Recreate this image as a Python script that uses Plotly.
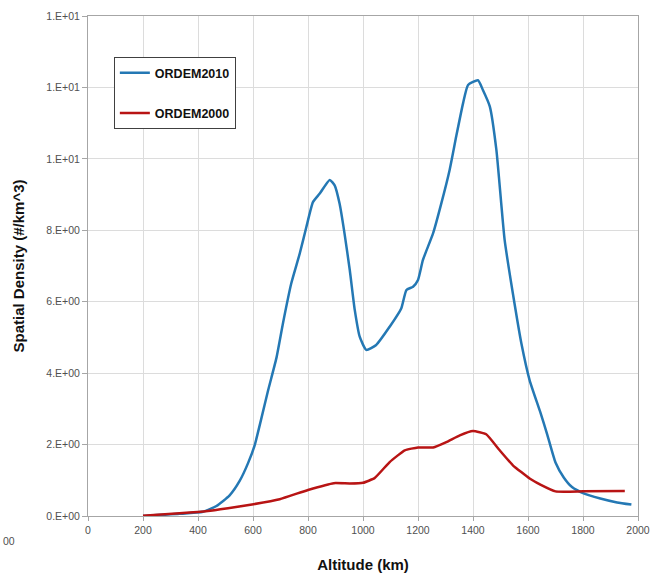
import plotly.graph_objects as go

# Spatial density profiles versus altitude
alt_2010 = [200, 333, 418, 467, 515, 552, 582, 606, 630, 655, 685, 709, 739, 770, 794, 818,
            842, 879, 897, 915, 933, 952, 970, 988, 1012, 1048, 1097, 1139, 1158, 1182, 1200,
            1218, 1255, 1285, 1315, 1339, 1364, 1382, 1418, 1436, 1461, 1485, 1515, 1545,
            1576, 1606, 1645, 1670, 1700, 1730, 1760, 1800, 1863, 1924, 1976]
dens_2010 = [0.0, 0.06, 0.12, 0.28, 0.58, 0.99, 1.48, 1.98, 2.72, 3.52, 4.42, 5.4, 6.51, 7.35,
             8.09, 8.79, 9.02, 9.41, 9.26, 8.74, 7.9, 6.88, 5.77, 5.02, 4.65, 4.79, 5.3, 5.81,
             6.33, 6.42, 6.61, 7.17, 7.92, 8.76, 9.69, 10.63, 11.56, 12.07, 12.2, 11.93, 11.47,
             10.25, 7.73, 6.23, 4.83, 3.8, 2.9, 2.28, 1.5, 1.08, 0.81, 0.64, 0.49, 0.38, 0.32]

alt_2000 = [200, 333, 436, 509, 602, 697, 800, 894, 952, 1000, 1042, 1097, 1152, 1200, 1255,
            1303, 1352, 1400, 1448, 1497, 1545, 1606, 1645, 1700, 1800, 1952]
dens_2000 = [0.01, 0.075, 0.14, 0.22, 0.33, 0.47, 0.73, 0.92, 0.91, 0.93, 1.06, 1.51, 1.84,
             1.92, 1.92, 2.07, 2.26, 2.38, 2.29, 1.84, 1.42, 1.05, 0.88, 0.69, 0.69, 0.70]

y_ticks = [0, 2, 4, 6, 8, 10, 12, 14]
y_labels = ["0.E+00", "2.E+00", "4.E+00", "6.E+00", "8.E+00", "1.E+01", "1.E+01", "1.E+01"]
x_ticks = list(range(0, 2001, 200))

fig = go.Figure()
fig.add_trace(go.Scatter(x=alt_2010, y=dens_2010, mode="lines", name="ORDEM2010",
                         legendgroup="a",
                         line=dict(color="#2478B4", width=2.5, shape="spline", smoothing=0.5)))
fig.add_trace(go.Scatter(x=alt_2000, y=dens_2000, mode="lines", name="ORDEM2000",
                         legendgroup="b",
                         line=dict(color="#B81414", width=2.5, shape="spline", smoothing=0.4)))

axis_font = dict(family="Liberation Sans", size=10.5, color="#505050")
title_font = dict(family="Liberation Sans", size=15, color="#111111")
fig.update_layout(
    width=651, height=578,
    margin=dict(l=88, r=13, t=16, b=62, autoexpand=False),
    paper_bgcolor="white", plot_bgcolor="white",
    showlegend=True,
    legend=dict(x=0.047, y=0.918, xanchor="left", yanchor="top",
                bgcolor="white", bordercolor="#404040", borderwidth=1,
                font=dict(family="Liberation Sans", size=12.5, color="#111111", weight="bold"),
                traceorder="grouped", tracegroupgap=21, itemwidth=30),
    xaxis=dict(range=[0, 2000], tickvals=x_ticks, ticktext=[str(v) for v in x_ticks],
               automargin=False,
               showgrid=True, gridcolor="#DCDCDC", gridwidth=1,
               showline=True, linecolor="#A6A6A6", linewidth=1, mirror=True,
               ticks="outside", ticklen=4, tickcolor="#A6A6A6",
               tickfont=axis_font, zeroline=False,
               title=dict(text="<b>Altitude (km)</b>", standoff=24, font=title_font)),
    yaxis=dict(range=[0, 14], tickvals=y_ticks, ticktext=y_labels,
               automargin=False,
               showgrid=True, gridcolor="#DCDCDC", gridwidth=1,
               showline=True, linecolor="#A6A6A6", linewidth=1, mirror=True,
               ticks="outside", ticklen=5, tickcolor="#A6A6A6",
               tickfont=axis_font, zeroline=False,
               title=dict(text="<b>Spatial Density (#/km^3)</b>", standoff=18, font=title_font)),
)

# fragment of a neighbouring axis label at the left edge
fig.add_annotation(text="00", xref="paper", yref="paper", x=-0.158, y=-0.05,
                   xanchor="left", yanchor="middle", showarrow=False,
                   font=dict(family="Liberation Sans", size=10.5, color="#505050"))

fig.write_html("out.html")
